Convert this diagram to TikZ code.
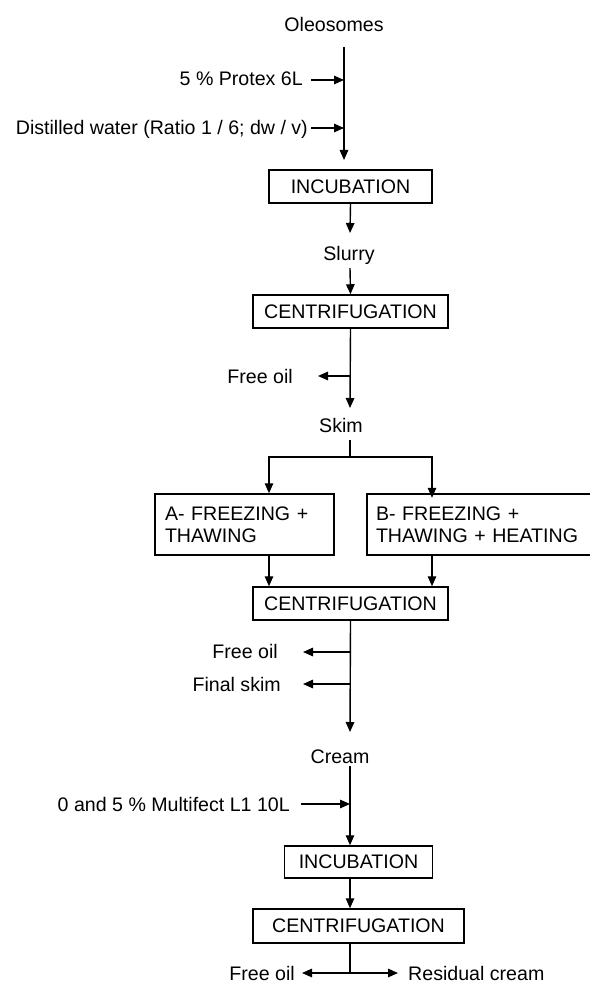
\documentclass[tikz,border=0pt]{standalone}
\usepackage{fontspec}
\setmainfont{Liberation Sans}
\usetikzlibrary{arrows.meta}
\begin{document}
\begin{tikzpicture}[x=1pt,y=-1pt,
  every node/.style={inner sep=0pt, font=\fontsize{19.6}{21.7}\selectfont},
  lbl/.style={anchor=base},
  lble/.style={anchor=base east},
  lblw/.style={anchor=base west},
  procbox/.style={draw, line width=1.5pt, minimum height=33pt, align=center},
  ln/.style={line width=1.4pt},
  arr/.style={ln, -{Triangle[length=10pt,width=8.5pt]}},
]
\useasboundingbox (0,0) rectangle (590,984);

% top inputs
\node[lbl] (oleo) at (334,32) {Oleosomes};
\node[lble] (protex) at (303,86) {5 \% Protex 6L};
\node[lble] (dist) at (308,135) {Distilled water (Ratio 1 / 6; dw / v)};
\coordinate (m0) at (344,47);
\coordinate (m1) at (344,160);
\draw[arr] (m0) -- (m1);
\coordinate (pa) at (311,80);
\draw[arr] (pa) -- (pa -| m0);
\coordinate (da) at (311,128);
\draw[arr] (da) -- (da -| m0);

% incubation 1
\node[procbox, minimum width=163pt] (inc1) at (350.5,186.5) {INCUBATION};
\coordinate (s0) at (350,233);
\draw[arr] (inc1.south) -- (s0);
\node[lbl] (slurry) at (349,260) {Slurry};
\coordinate (s1) at (350,268);

% centrifugation 1
\node[procbox, minimum width=195pt] (cent1) at (350.5,311.5) {CENTRIFUGATION};
\draw[arr] (s1) -- (cent1.north);
\coordinate (k0) at (350,408);
\draw[arr] (cent1.south) -- (k0);
\coordinate (f1) at (350,376);
\coordinate (f1e) at (318,376);
\draw[arr] (f1) -- (f1e);
\node[lble] (free1) at (293,383) {Free oil};
\node[lbl] (skim) at (341,432) {Skim};

% split
\coordinate (b0) at (350,440);
\coordinate (b1) at (350,457);
\coordinate (ba) at (269,457);
\coordinate (bb) at (432,457);
\node[procbox, minimum width=179pt, minimum height=61pt, text width=159pt, inner xsep=10pt, align=left] (boxA) at (244.5,524.5) {A- FREEZING +\\THAWING};
\node[minimum width=223pt, minimum height=61pt, text width=205pt, inner xsep=9pt, align=left] (boxB) at (478.5,524.5) {B- FREEZING +\\THAWING + HEATING};
\draw[line width=1.5pt] (boxB.north east) -- (boxB.north west) -- (boxB.south west) -- (boxB.south east);
\draw[ln] (b0) -- (b1);
\draw[arr] (b1) -- (ba) -- (ba |- boxA.north);
\draw[arr] (b1) -- (bb) -- ([yshift=-4pt]bb |- boxB.north);

% centrifugation 2
\node[procbox, minimum width=195pt] (cent2) at (350.5,603.5) {CENTRIFUGATION};
\draw[arr] (ba |- boxA.south) -- (ba |- cent2.north);
\draw[arr] (bb |- boxB.south) -- (bb |- cent2.north);
\coordinate (c0) at (350,732);
\draw[arr] (cent2.south) -- (c0);
\coordinate (f2) at (350,652);
\coordinate (f2e) at (303,652);
\draw[arr] (f2) -- (f2e);
\coordinate (f3) at (350,684);
\coordinate (f3e) at (303,684);
\draw[arr] (f3) -- (f3e);
\node[lble] (free2) at (278,658) {Free oil};
\node[lble] (fskim) at (281,691) {Final skim};
\node[lbl] (cream) at (340,763) {Cream};

% incubation 2
\coordinate (r0) at (350,766);
\node[procbox, minimum width=148pt, minimum height=32pt] (inc2) at (358.5,862) {INCUBATION};
\draw[arr] (r0) -- (r0 |- inc2.north);
\coordinate (ma) at (301,804);
\draw[arr] (ma) -- (ma -| r0);
\node[lble] (multi) at (290,811) {0 and 5 \% Multifect L1 10L};

% centrifugation 3
\node[procbox, minimum width=211pt, minimum height=34pt] (cent3) at (358.5,926) {CENTRIFUGATION};
\draw[arr] (r0 |- inc2.south) -- (r0 |- cent3.north);
\coordinate (e0) at (350,973);
\coordinate (el) at (302,973);
\coordinate (er) at (398,973);
\draw[ln] (r0 |- cent3.south) -- (e0);
\draw[arr] (e0) -- (el);
\draw[arr] (e0) -- (er);
\node[lble] (free3) at (295,980) {Free oil};
\node[lblw] (resid) at (408,980) {Residual cream};
\end{tikzpicture}
\end{document}
